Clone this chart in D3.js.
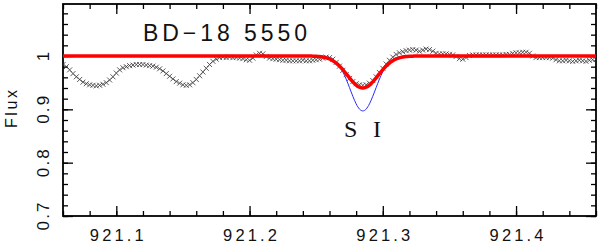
<!DOCTYPE html>
<html><head><meta charset="utf-8">
<script src="https://cdn.jsdelivr.net/npm/d3@7/dist/d3.min.js"></script>
<style>body{margin:0;background:#fff}svg{display:block}</style>
</head><body><svg id="c" width="600" height="243"></svg>
<script>
// observed spectrum (crosses): wavelength (nm) and normalized flux
const obsWave = [921.0600,921.0625,921.0650,921.0675,921.0700,921.0725,921.0750,921.0775,921.0800,921.0825,
921.0850,921.0875,921.0900,921.0925,921.0950,921.0975,921.1000,921.1025,921.1050,921.1075,
921.1100,921.1125,921.1150,921.1175,921.1200,921.1225,921.1250,921.1275,921.1300,921.1325,
921.1350,921.1375,921.1400,921.1425,921.1450,921.1475,921.1500,921.1525,921.1550,921.1575,
921.1600,921.1625,921.1650,921.1675,921.1700,921.1725,921.1750,921.1775,921.1800,921.1825,
921.1850,921.1875,921.1900,921.1925,921.1950,921.1975,921.2000,921.2025,921.2050,921.2075,
921.2100,921.2125,921.2150,921.2175,921.2200,921.2225,921.2250,921.2275,921.2300,921.2325,
921.2350,921.2375,921.2400,921.2425,921.2450,921.2475,921.2500,921.2525,921.2550,921.2575,
921.2600,921.2625,921.2650,921.2675,921.2700,921.2725,921.2750,921.2775,921.2800,921.2825,
921.2850,921.2875,921.2900,921.2925,921.2950,921.2975,921.3000,921.3025,921.3050,921.3075,
921.3100,921.3125,921.3150,921.3175,921.3200,921.3225,921.3250,921.3275,921.3300,921.3325,
921.3350,921.3375,921.3400,921.3425,921.3450,921.3475,921.3500,921.3525,921.3550,921.3575,
921.3600,921.3625,921.3650,921.3675,921.3700,921.3725,921.3750,921.3775,921.3800,921.3825,
921.3850,921.3875,921.3900,921.3925,921.3950,921.3975,921.4000,921.4025,921.4050,921.4075,
921.4100,921.4125,921.4150,921.4175,921.4200,921.4225,921.4250,921.4275,921.4300,921.4325,
921.4350,921.4375,921.4400,921.4425,921.4450,921.4475,921.4500,921.4525,921.4550,921.4575,921.4600];
const obsFlux = [0.984,0.980,0.974,0.967,0.961,0.956,0.951,0.948,0.946,0.945,
0.944,0.945,0.947,0.950,0.955,0.961,0.968,0.974,0.978,0.980,
0.982,0.983,0.984,0.984,0.984,0.983,0.982,0.981,0.979,0.976,
0.972,0.967,0.962,0.957,0.952,0.949,0.946,0.945,0.946,0.950,
0.956,0.963,0.970,0.977,0.984,0.990,0.994,0.997,0.998,0.997,
0.998,0.997,0.997,0.996,0.995,0.993,0.992,0.996,1.002,1.005,
1.004,0.999,0.996,0.995,0.994,0.993,0.992,0.992,0.991,0.991,
0.991,0.991,0.992,0.991,0.991,0.992,0.993,0.994,0.996,0.998,
0.997,0.994,0.988,0.981,0.973,0.965,0.958,0.952,0.948,0.946,
0.945,0.946,0.949,0.954,0.961,0.969,0.977,0.985,0.992,0.998,
1.003,1.006,1.008,1.010,1.011,1.012,1.011,1.009,1.011,1.013,
1.012,1.009,1.005,1.004,1.004,1.004,1.003,1.002,0.999,0.995,
0.994,0.997,1.001,1.002,1.002,1.002,1.002,1.002,1.002,1.002,
1.002,1.002,1.002,1.003,1.003,1.005,1.006,1.006,1.007,1.007,
1.005,1.000,0.997,0.997,0.997,0.997,0.997,0.996,0.993,0.991,
0.991,0.992,0.991,0.990,0.991,0.992,0.991,0.990,0.992,0.993,0.994];

// model lines: red = fitted synthetic, blue = deeper synthetic
const modelWave = [921.060,921.245,921.2475,921.250,921.2525,921.255,921.2575,921.260,921.2625,921.265,921.2675,
921.270,921.2725,921.275,921.2775,921.280,921.2825,921.285,921.2875,921.290,921.2925,921.295,921.2975,
921.300,921.3025,921.305,921.3075,921.310,921.3125,921.315,921.3175,921.320,921.3225,921.325,921.460];
const redFlux = [1.0,1.0,0.9997,0.9994,0.9989,0.998,0.9966,0.9944,0.9911,0.9868,0.9811,
0.9744,0.9668,0.9589,0.9515,0.9454,0.9414,0.940,0.9414,0.9454,0.9515,0.9589,0.9668,
0.9744,0.9811,0.9868,0.9911,0.9944,0.9966,0.998,0.9989,0.9994,0.9997,1.0,1.0];
const blueFlux = [1.0,1.0,0.9999,0.9998,0.9997,0.9993,0.9984,0.9968,0.9938,0.9888,0.9811,
0.9704,0.9567,0.9408,0.9246,0.9103,0.9005,0.897,0.9005,0.9103,0.9246,0.9408,0.9567,
0.9704,0.9811,0.9888,0.9938,0.9968,0.9984,0.9993,0.9997,0.9998,0.9999,1.0,1.0];

const xTickValues = [921.1, 921.2, 921.3, 921.4];
const xTickLabels = ["921.1", "921.2", "921.3", "921.4"];
const yTickValues = [0.7, 0.8, 0.9, 1.0];
const yTickLabels = ["0.7", "0.8", "0.9", "1"];
const titleText = "BD\u221218 5550";
const lineLabel = "S I";
const yAxisTitle = "Flux";

const L = 63, R = 596, T = 4, B = 216;
const x = d3.scaleLinear().domain([921.06, 921.46]).range([L, R]);
const y = d3.scaleLinear().domain([0.7, 1.0975]).range([B, T]);
const svg = d3.select("#c");

svg.append("defs").append("clipPath").attr("id", "clip")
  .append("rect").attr("x", L).attr("y", T).attr("width", R - L).attr("height", B - T);

const xMinor = d3.range(0, 21).map(i => 921.06 + i * 0.02);
const yMinor = d3.range(0, 20).map(i => 0.7 + i * 0.02);

function axis(gen, tr) {
  const g = svg.append("g").attr("transform", tr).call(gen);
  g.select(".domain").remove();
  g.selectAll(".tick line").attr("stroke", "#000").attr("stroke-width", 1.3);
  return g;
}
// ticks inward on all four sides
axis(d3.axisBottom(x).tickValues(xMinor).tickSize(-5).tickFormat(""), `translate(0,${B})`);
axis(d3.axisTop(x).tickValues(xMinor).tickSize(-5).tickFormat(""), `translate(0,${T})`);
axis(d3.axisLeft(y).tickValues(yMinor).tickSize(-5).tickFormat(""), `translate(${L},0)`);
axis(d3.axisRight(y).tickValues(yMinor).tickSize(-5).tickFormat(""), `translate(${R},0)`);
const gx = axis(d3.axisBottom(x).tickValues(xTickValues).tickSize(-10).tickPadding(0)
  .tickFormat((d, i) => xTickLabels[i]), `translate(0,${B})`);
axis(d3.axisTop(x).tickValues(xTickValues).tickSize(-10).tickFormat(""), `translate(0,${T})`);
const gy = axis(d3.axisLeft(y).tickValues(yTickValues).tickSize(-10)
  .tickFormat((d, i) => yTickLabels[i]), `translate(${L},0)`);
axis(d3.axisRight(y).tickValues(yTickValues).tickSize(-10).tickFormat(""), `translate(${R},0)`);

gx.selectAll(".tick text")
  .attr("y", 0).attr("dy", null).attr("transform", "translate(0,25)")
  .attr("font-family", "Liberation Sans, Arial, sans-serif").attr("font-size", 16.5)
  .attr("fill", "#111").attr("text-anchor", "middle")
  .attr("textLength", 54).attr("lengthAdjust", "spacing");
gy.selectAll(".tick text")
  .attr("x", 0).attr("dy", null).attr("y", 0)
  .attr("transform", "translate(-14,0) rotate(-90)")
  .attr("text-anchor", "middle")
  .attr("font-family", "Liberation Sans, Arial, sans-serif").attr("font-size", 17)
  .attr("fill", "#111")
  .each(function(d, i) { if (yTickLabels[i].length > 1) d3.select(this).attr("textLength", 28).attr("lengthAdjust", "spacing"); });

// frame
svg.append("rect").attr("x", L).attr("y", T).attr("width", R - L).attr("height", B - T)
  .attr("fill", "none").attr("stroke", "#000").attr("stroke-width", 1.8);

const plot = svg.append("g").attr("clip-path", "url(#clip)");

// crosses
const s = 2.5;
plot.append("g").selectAll("path").data(obsWave).join("path")
  .attr("d", (d, i) => {
    const cx = x(d), cy = y(obsFlux[i]);
    return `M${cx - s},${cy - s}L${cx + s},${cy + s}M${cx - s},${cy + s}L${cx + s},${cy - s}`;
  })
  .attr("stroke", "#333").attr("stroke-width", 0.8).attr("fill", "none");

const lineGen = arr => d3.line().x(d => x(d)).y((d, i) => y(arr[i])).curve(d3.curveMonotoneX);
plot.append("path").datum(modelWave).attr("d", lineGen(blueFlux))
  .attr("fill", "none").attr("stroke", "#2b2bff").attr("stroke-width", 1);
plot.append("path").datum(modelWave).attr("d", lineGen(redFlux))
  .attr("fill", "none").attr("stroke", "#ff0000").attr("stroke-width", 3.5);

// texts
svg.append("text").attr("x", 143).attr("y", 41).text(titleText)
  .attr("font-family", "Liberation Sans, Arial, sans-serif").attr("font-size", 23)
  .attr("fill", "#111").attr("textLength", 164).attr("lengthAdjust", "spacing");
svg.append("text").attr("x", 344).attr("y", 137).text(lineLabel)
  .attr("font-family", "Liberation Serif, Times New Roman, serif").attr("font-size", 24)
  .attr("fill", "#111").attr("textLength", 37).attr("lengthAdjust", "spacing");
svg.append("text").attr("transform", "translate(17,109) rotate(-90)").attr("text-anchor", "middle")
  .text(yAxisTitle)
  .attr("font-family", "Liberation Sans, Arial, sans-serif").attr("font-size", 16)
  .attr("fill", "#111").attr("textLength", 38).attr("lengthAdjust", "spacing");
</script></body></html>
